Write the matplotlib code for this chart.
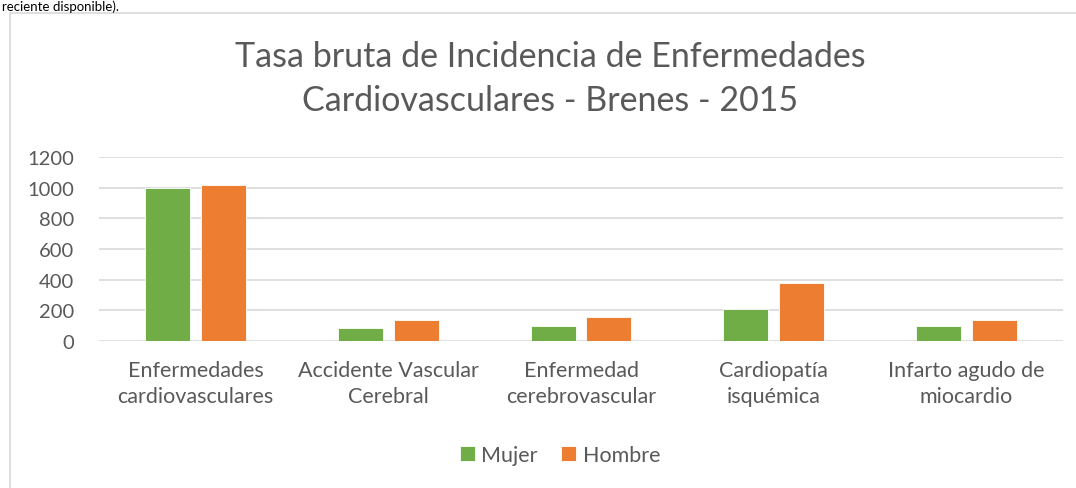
import matplotlib.pyplot as plt
import numpy as np
from matplotlib.patches import Rectangle

plt.rcParams['font.family'] = ['Lato', 'DejaVu Sans']

categorias = ["Enfermedades\ncardiovasculares", "Accidente Vascular\nCerebral",
              "Enfermedad\ncerebrovascular", "Cardiopatía\nisquémica",
              "Infarto agudo de\nmiocardio"]
mujer = [1000, 83, 98, 209, 98]
hombre = [1017, 139, 155, 376, 139]

gris = "#595959"
verde = "#70AD47"
naranja = "#ED7D31"

fig = plt.figure(figsize=(10.76, 4.89), dpi=100)

# marco del gráfico (cortado a la derecha y abajo)
fig.patches.append(Rectangle((10 / 1076, -0.1), 1.2, (489 - 14) / 489 + 0.1,
                             transform=fig.transFigure, fill=False,
                             edgecolor="#D9D9D9", linewidth=1.2))

# texto del documento que queda arriba
fig.text(2 / 1076, 1.0, "reciente disponible).", fontsize=9.5, color="black",
         ha="left", va="top")

ax = fig.add_axes([99 / 1076, 147 / 489, (1063 - 99) / 1076, (342 - 158) / 489])

x = np.arange(len(categorias))
w = 0.233
ax.bar(x - 0.145, mujer, w, color=verde, edgecolor="white", linewidth=0.6, label="Mujer", zorder=3)
ax.bar(x + 0.145, hombre, w, color=naranja, edgecolor="white", linewidth=0.6, label="Hombre", zorder=3)

ax.set_xlim(-0.5, len(categorias) - 0.5)
ax.set_ylim(0, 1200)
ax.set_yticks(range(0, 1201, 200))
ax.yaxis.grid(True, color="#D9D9D9", linewidth=1.2, zorder=0)
for s in ax.spines.values():
    s.set_visible(False)
ax.tick_params(axis="both", length=0, colors=gris)
ax.tick_params(axis="y", pad=18, labelsize=14.5)
ax.tick_params(axis="x", pad=14, labelsize=15.5)
ax.set_xticks(x)
ax.set_xticklabels(categorias, linespacing=1.35)

fig.text(550 / 1076, 1 - 79 / 489,
         "Tasa bruta de Incidencia de Enfermedades\nCardiovasculares - Brenes - 2015",
         ha="center", va="center", fontsize=24.5, color=gris, linespacing=1.45)

fig.legend(loc="center", bbox_to_anchor=(560 / 1076, 1 - 456 / 489), ncol=2,
           frameon=False, fontsize=15.5, labelcolor=gris, handlelength=0.7,
           handleheight=0.7, handletextpad=0.3, columnspacing=1.1)

fig.savefig("out.png", dpi=100)
